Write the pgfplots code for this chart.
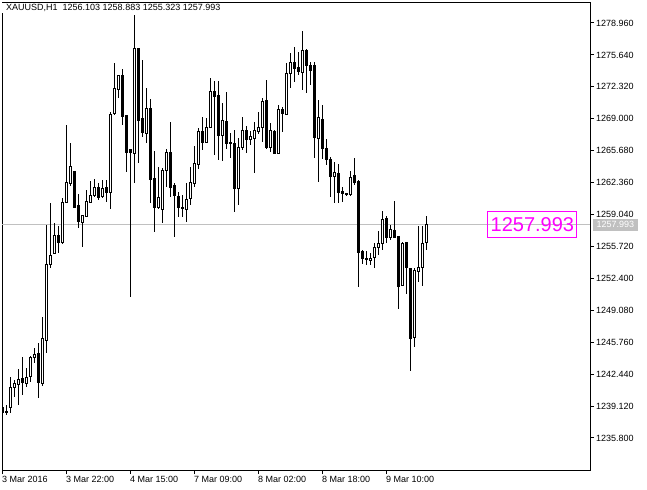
\documentclass[border=0pt]{standalone}
\usepackage{fontspec}
\setmainfont{Liberation Sans}
\usepackage{pgfplots}
\usepackage{pgfplotstable}
\pgfplotsset{compat=1.18}

\definecolor{bidline}{RGB}{192,192,192}
\definecolor{mtmag}{RGB}{255,0,255}

% XAUUSD H1 candles, k = bar number (1 = first bar on screen)
% rising bars (close >= open), drawn hollow
\pgfplotstableread{
k O H L C
3 1239.02 1242.14 1238.40 1241.10
4 1241.10 1241.83 1240.06 1241.52
5 1241.42 1242.98 1239.23 1241.94
7 1241.52 1243.08 1241.10 1242.14
8 1242.25 1244.30 1241.62 1244.22
9 1244.22 1245.16 1243.60 1244.54
11 1241.52 1248.38 1241.21 1246.20
12 1245.99 1257.95 1244.64 1253.90
13 1253.90 1260.24 1253.48 1254.83
14 1255.04 1258.16 1254.94 1256.91
16 1256.08 1260.76 1255.98 1260.34
17 1260.24 1268.35 1260.20 1262.32
18 1262.32 1266.48 1262.01 1264.09
21 1258.26 1259.00 1255.66 1258.99
22 1258.89 1261.59 1258.78 1260.45
23 1260.34 1262.53 1260.24 1261.07
24 1261.07 1262.74 1260.86 1261.90
26 1260.97 1262.63 1260.76 1261.80
28 1261.38 1269.70 1259.62 1269.50
29 1269.50 1274.80 1269.39 1272.10
30 1272.10 1273.60 1271.16 1273.55
34 1265.44 1279.79 1262.32 1276.36
37 1267.52 1272.20 1266.48 1270.12
40 1259.82 1263.98 1259.62 1260.86
41 1259.62 1263.88 1258.16 1263.67
42 1263.67 1265.86 1261.90 1265.54
47 1259.62 1262.32 1258.26 1260.66
48 1260.66 1263.98 1260.03 1262.32
49 1262.32 1266.17 1261.90 1264.40
50 1264.30 1268.04 1263.78 1267.73
52 1266.58 1269.08 1266.48 1268.14
53 1268.14 1273.24 1268.04 1271.89
56 1267.31 1270.64 1264.60 1268.77
60 1261.80 1267.00 1260.03 1266.06
61 1266.06 1269.18 1265.75 1267.83
63 1266.90 1267.73 1266.27 1267.21
64 1267.00 1268.66 1263.36 1267.83
65 1267.73 1269.70 1267.42 1268.14
66 1268.14 1271.16 1266.58 1270.85
68 1266.06 1268.56 1265.54 1267.83
70 1265.44 1270.43 1265.40 1270.02
72 1269.50 1274.80 1269.39 1273.76
73 1273.66 1275.84 1272.20 1274.90
76 1273.86 1278.13 1271.99 1276.15
80 1267.00 1270.95 1262.42 1269.18
84 1263.05 1264.50 1260.24 1263.46
88 1261.18 1263.57 1260.97 1262.94
93 1254.31 1255.04 1253.79 1254.52
94 1254.52 1256.08 1253.48 1255.56
95 1255.66 1257.33 1254.83 1256.08
96 1256.08 1259.41 1255.35 1258.58
98 1256.70 1257.95 1256.39 1257.54
101 1251.71 1256.18 1251.61 1256.08
104 1246.30 1253.48 1245.26 1253.27
105 1253.17 1257.85 1252.02 1253.58
106 1253.58 1257.85 1251.61 1256.08
107 1256.103 1258.883 1255.323 1257.993
}\bull

% falling bars (close < open), drawn solid
\pgfplotstableread{
k O H L C
1 1239.02 1239.23 1238.09 1238.40
2 1238.55 1239.23 1238.19 1238.45
6 1241.94 1244.22 1240.27 1241.52
10 1244.54 1245.68 1239.96 1241.52
15 1256.91 1257.85 1255.04 1256.18
19 1263.57 1263.60 1259.80 1259.82
20 1259.93 1261.18 1257.64 1258.26
25 1261.90 1262.32 1260.55 1260.86
27 1261.90 1262.63 1260.34 1261.38
31 1273.55 1274.18 1268.35 1269.29
32 1269.39 1269.40 1263.46 1265.54
33 1265.75 1265.75 1250.46 1265.44
35 1276.36 1276.40 1264.40 1268.87
36 1268.98 1275.11 1267.10 1267.52
38 1270.12 1271.06 1260.24 1262.74
39 1262.74 1265.65 1257.22 1259.82
43 1265.54 1268.66 1260.86 1261.90
44 1262.01 1262.32 1256.70 1261.07
45 1260.97 1261.38 1258.78 1259.82
46 1259.82 1261.07 1258.78 1259.62
51 1267.73 1269.18 1265.75 1266.58
54 1271.89 1272.93 1265.23 1271.37
55 1271.47 1272.93 1264.71 1267.31
57 1268.77 1271.78 1265.86 1266.48
58 1266.58 1267.52 1264.92 1266.38
59 1266.48 1267.83 1259.30 1261.80
62 1267.83 1268.25 1265.44 1266.90
67 1270.95 1273.03 1265.86 1266.06
69 1267.73 1267.80 1265.40 1265.44
71 1270.02 1270.22 1267.62 1269.60
74 1274.90 1276.46 1272.82 1274.28
75 1274.38 1275.94 1273.55 1273.97
77 1276.15 1276.26 1271.68 1274.59
78 1274.59 1274.90 1272.51 1274.07
79 1274.59 1274.90 1264.92 1267.10
81 1268.98 1270.43 1264.82 1265.96
82 1265.96 1266.90 1264.19 1264.82
83 1264.82 1265.02 1260.86 1263.05
85 1263.36 1264.30 1260.24 1261.38
86 1261.49 1261.90 1260.34 1261.28
87 1261.20 1261.28 1260.97 1261.15
89 1263.15 1264.92 1262.11 1262.42
90 1262.53 1262.60 1251.50 1255.14
91 1255.25 1255.35 1253.90 1254.52
92 1254.45 1255.25 1253.79 1254.40
97 1258.68 1258.89 1256.08 1256.70
99 1257.43 1260.45 1256.60 1256.70
100 1256.81 1256.85 1249.22 1251.61
102 1256.08 1256.10 1250.78 1253.48
103 1253.48 1253.50 1242.77 1246.20
}\bear

\pgfplotsset{
  candle/.style={draw=none, mark=none, forget plot,
    error bars/.cd, y dir=both, y explicit, error mark=none,
    error bar style={#1}},
}

\begin{document}
\begin{tikzpicture}
\begin{axis}[
  scale only axis,
  width=588bp, height=467.5bp,
  xmin=1, xmax=148,
  ymin=1232.472, ymax=1281.092,
  axis line style={black, line width=1bp},
  xtick={1,17,33,49,65,81,97},
  xticklabels={3 Mar 2016, 3 Mar 22:00, 4 Mar 15:00, 7 Mar 09:00, 8 Mar 02:00, 8 Mar 18:00, 9 Mar 10:00},
  ytick={1235.8,1239.12,1242.44,1245.76,1249.08,1252.4,1255.72,1259.04,1262.36,1265.68,1269,1272.32,1275.64,1278.96},
  yticklabels={1235.800,1239.120,1242.440,1245.760,1249.080,1252.400,1255.720,1259.040,1262.360,1265.680,1269.000,1272.320,1275.640,1278.960},
  xtick pos=bottom, ytick pos=right, yticklabel pos=right,
  tick align=outside,
  major tick length=4bp,
  tick style={black, line width=1bp},
  tick label style={font=\fontsize{9bp}{10bp}\selectfont},
  x tick label style={anchor=north west, inner sep=0pt, yshift=-2bp},
  y tick label style={anchor=west, inner sep=0pt, xshift=2bp},
  /pgf/number format/assume math mode=true,
]
% bid line
\addplot[bidline, line width=1bp, forget plot] coordinates {(1,1257.993) (148,1257.993)};

% wicks
\addplot[candle={draw=black, line width=1bp}] table[x=k, y expr={(\thisrow{H}+\thisrow{L})/2},
  y error expr={(\thisrow{H}-\thisrow{L})/2}] {\bull};
\addplot[candle={draw=black, line width=1bp}] table[x=k, y expr={(\thisrow{H}+\thisrow{L})/2},
  y error expr={(\thisrow{H}-\thisrow{L})/2}] {\bear};

% bodies
\addplot[candle={draw=black, line width=3bp}] table[x=k, y expr={(\thisrow{O}+\thisrow{C})/2},
  y error expr={abs(\thisrow{O}-\thisrow{C})/2+0.052}] {\bear};
\addplot[candle={draw=black, line width=3bp}] table[x=k, y expr={(\thisrow{O}+\thisrow{C})/2},
  y error expr={abs(\thisrow{C}-\thisrow{O})/2+0.052}] {\bull};
\addplot[candle={draw=white, line width=1bp}] table[x=k, y expr={(\thisrow{O}+\thisrow{C})/2},
  y error expr={max((\thisrow{C}-\thisrow{O})/2-0.052,0)}] {\bull};

% price label of the last close
\node[draw=mtmag, text=mtmag, line width=1bp, inner sep=0pt,
  minimum width=89bp, minimum height=26bp,
  font=\fontsize{20bp}{20bp}\selectfont] at (axis cs:133.6,1257.993) {1257.993};

\coordinate (pl) at (axis cs:148,1257.993);
\coordinate (tl) at (rel axis cs:0,1);
\coordinate (bl) at (rel axis cs:0,0);
\end{axis}

\node[fill=bidline, text=white, inner xsep=3.5bp, inner ysep=0pt,
  minimum height=12bp, anchor=west,
  font=\fontsize{9bp}{10bp}\selectfont] at ([xshift=3bp]pl) {1257.993};

\fill[white] ([xshift=-1.5bp,yshift=-1bp]tl) rectangle ([xshift=1.5bp,yshift=-10.5bp]tl);
\node[anchor=base west, inner sep=0pt, font=\fontsize{9bp}{10bp}\selectfont]
  at ([xshift=4bp,yshift=-8.5bp]tl) {XAUUSD,H1\ \ 1256.103 1258.883 1255.323 1257.993};

\pgfresetboundingbox
\path[use as bounding box] ([xshift=-2bp,yshift=-20bp]bl) rectangle ++(647bp,490bp);
\end{tikzpicture}
\end{document}
